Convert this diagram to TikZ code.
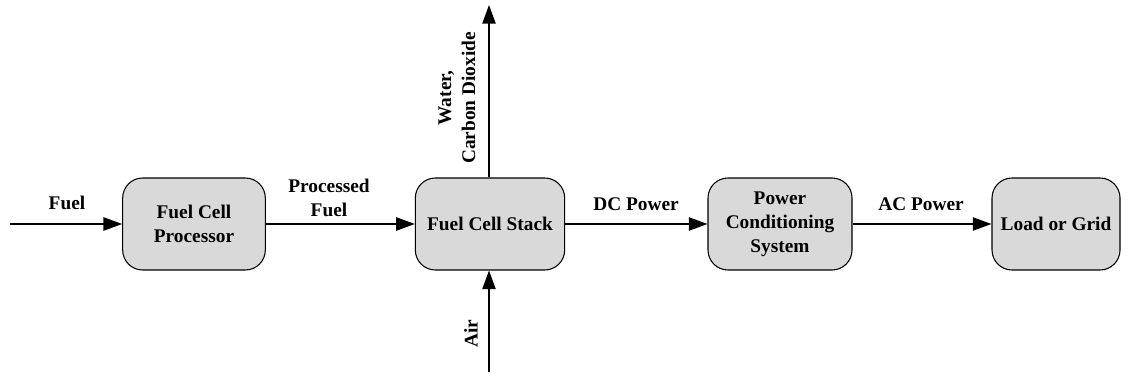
\documentclass[tikz,border=0pt]{standalone}
\usepackage{fontspec}
\setmainfont{Liberation Serif}
\usetikzlibrary{arrows.meta}
\definecolor{boxgray}{HTML}{D9D9D9}
\begin{document}
\begin{tikzpicture}[x=0.75pt,y=-0.75pt,
  font=\fontsize{14.5}{18}\selectfont\bfseries,
  block/.style={draw=black,line width=0.8pt,fill=boxgray,rounded corners=15pt,
    minimum height=69pt,align=center,inner sep=2pt},
  flow/.style={line width=1pt,-{Triangle[length=14pt,width=10pt]}},
  lbl/.style={align=center,inner sep=0pt}]
\useasboundingbox (0,0) rectangle (1130,377);
\node[block,minimum width=107pt] (fcp) at (194,224) {Fuel Cell\\Processor};
\node[block,minimum width=112pt] (fcs) at (490,224) {Fuel Cell Stack};
\node[block,minimum width=108pt] (pcs) at (780,224) {Power\\Conditioning\\System};
\node[block,minimum width=96pt] (lg) at (1056,224) {Load or Grid};
\coordinate (fin) at (10,224);
\coordinate (top) at (489,5);
\coordinate (bot) at (489,372);
\draw[flow] (fin) -- (fcp.west);
\draw[flow] (fcp.east) -- (fcs.west);
\draw[flow] (fcs.east) -- (pcs.west);
\draw[flow] (pcs.east) -- (lg.west);
\draw[flow] (fcs.north -| top) -- (top);
\draw[flow] (bot) -- (fcs.south -| bot);
\node[lbl] (lfuel) at (67,203) {Fuel};
\node[lbl] (lpf) at (329,198) {Processed\\Fuel};
\node[lbl] (ldc) at (636,204) {DC Power};
\node[lbl] (lac) at (921,204) {AC Power};
\node[lbl,rotate=90] (lwc) at (457,98) {Water,\\Carbon Dioxide};
\node[lbl,rotate=90] (lair) at (471,334) {Air};
\end{tikzpicture}
\end{document}
